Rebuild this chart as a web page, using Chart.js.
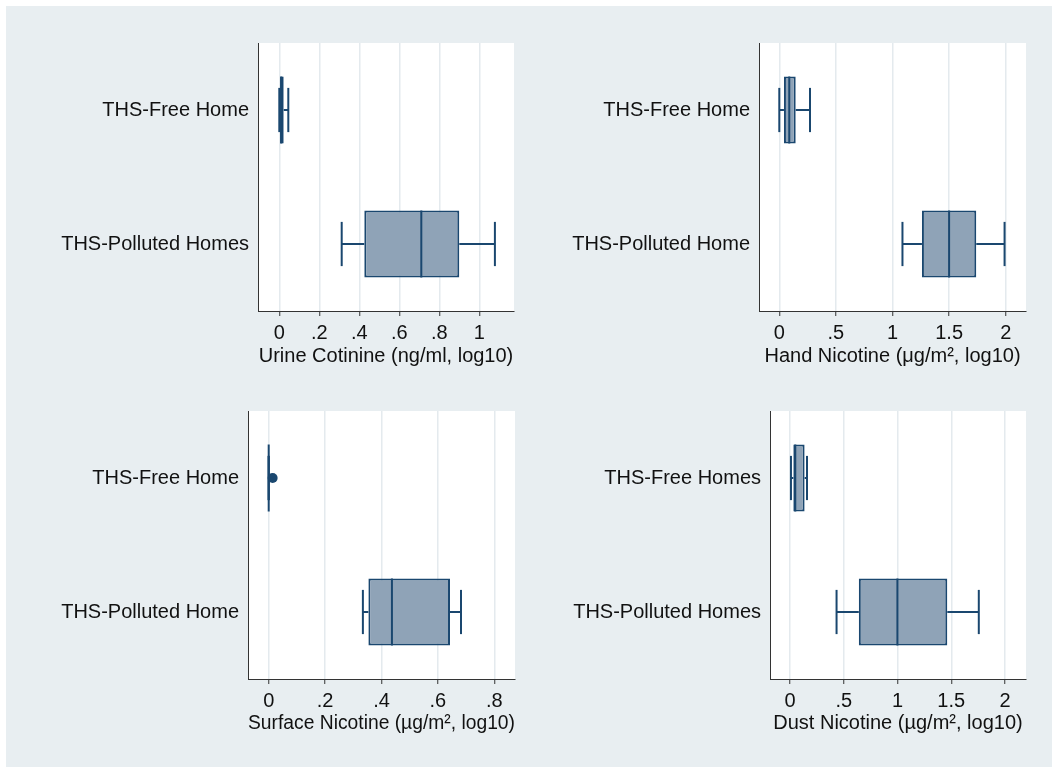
<!DOCTYPE html>
<html>
<head>
<meta charset="utf-8">
<script src="https://cdn.jsdelivr.net/npm/chart.js@4"></script>
<style>
  body { margin: 0; background: #fff; }
  #bg { position: absolute; left: 6px; top: 6px; width: 1046px; height: 761px; background: #e8eef1; }
  .panel { position: absolute; }
</style>
</head>
<body>
<div id="bg"></div>
<div class="panel" id="p1"><canvas id="c1"></canvas></div>
<div class="panel" id="p2"><canvas id="c2"></canvas></div>
<div class="panel" id="p3"><canvas id="c3"></canvas></div>
<div class="panel" id="p4"><canvas id="c4"></canvas></div>
<script>
// urine cotinine
const groups1 = ["THS-Free Home", "THS-Polluted Homes"];
const lo1 = [0, 0.312];
const q1_1 = [0, 0.425];
const med1 = [0.01, 0.71];
const q3_1 = [0.022, 0.90];
const hi1 = [0.045, 1.078];
const ticks1 = [0, 0.2, 0.4, 0.6, 0.8, 1];

// hand nicotine
const groups2 = ["THS-Free Home", "THS-Polluted Home"];
const lo2 = [0, 1.088];
const q1_2 = [0.041, 1.26];
const med2 = [0.088, 1.5];
const q3_2 = [0.145, 1.74];
const hi2 = [0.271, 1.99];
const ticks2 = [0, 0.5, 1, 1.5, 2];

// surface nicotine
const groups3 = ["THS-Free Home", "THS-Polluted Home"];
const lo3 = [0, 0.334];
const q1_3 = [0, 0.3535];
const med3 = [0, 0.437];
const q3_3 = [0, 0.643];
const hi3 = [0, 0.682];
const out3 = [[0.014], []];
const ticks3 = [0, 0.2, 0.4, 0.6, 0.8];

// dust nicotine
const groups4 = ["THS-Free Homes", "THS-Polluted Homes"];
const lo4 = [0.009, 0.433];
const q1_4 = [0.031, 0.64];
const med4 = [0.049, 0.999];
const q3_4 = [0.136, 1.463];
const hi4 = [0.158, 1.756];
const ticks4 = [0, 0.5, 1, 1.5, 2];

const LINE = "#1a476f";
const FILL = "#8fa3b7";

Chart.defaults.font.family = '"Liberation Sans", Arial, Helvetica, sans-serif';
Chart.defaults.font.size = 20;
Chart.defaults.color = "#111";

const boxParts = {
    id: "boxParts",
    beforeDraw(chart) {
        const a = chart.chartArea;
        const ctx = chart.ctx;
        ctx.save();
        ctx.fillStyle = "#fff";
        ctx.fillRect(a.left, a.top, a.right - a.left, a.bottom - a.top);
        ctx.restore();
    },
    afterDatasetsDraw(chart) {
        const ds = chart.data.datasets[0];
        const meta = chart.getDatasetMeta(0);
        const xs = chart.scales.x;
        const ys = chart.scales.y;
        const px = (v) => xs.getPixelForValue(v);
        const ctx = chart.ctx;
        const seg = (x1, y1, x2, y2) => {
            ctx.beginPath();
            ctx.moveTo(x1, y1);
            ctx.lineTo(x2, y2);
            ctx.stroke();
        };
        ctx.save();
        ctx.strokeStyle = LINE;
        ctx.lineWidth = 2;
        ds.med.forEach((m, i) => {
            const yc = ys.getPixelForValue(i);
            const h = meta.data[i].height / 2;
            const cap = h * 0.66;
            seg(px(m), yc - h, px(m), yc + h);
            seg(px(ds.lo[i]), yc, px(ds.data[i][0]), yc);
            seg(px(ds.data[i][1]), yc, px(ds.hi[i]), yc);
            seg(px(ds.lo[i]), yc - cap, px(ds.lo[i]), yc + cap);
            seg(px(ds.hi[i]), yc - cap, px(ds.hi[i]), yc + cap);
            (ds.out ? ds.out[i] : []).forEach((o) => {
                ctx.beginPath();
                ctx.fillStyle = LINE;
                ctx.arc(px(o), yc, 5, 0, Math.PI * 2);
                ctx.fill();
            });
        });
        ctx.restore();
    },
};

function fmt(v) {
    return v === 0 ? "0" : String(v).replace(/^0\./, ".");
}

function makePanel(id, box, groups, lo, q1, med, q3, hi, out, ticks, min, max, title) {
    const wrap = document.getElementById("p" + id);
    const padR = 12;
    wrap.style.left = box.cx + "px";
    wrap.style.top = box.top + "px";
    wrap.style.width = box.right + padR - box.cx + "px";
    wrap.style.height = box.canvasBottom - box.top + "px";

    new Chart(document.getElementById("c" + id), {
        type: "bar",
        data: {
            labels: groups,
            datasets: [
                {
                    data: q1.map((v, i) => [v, q3[i]]),
                    lo: lo,
                    med: med,
                    hi: hi,
                    out: out,
                    backgroundColor: FILL,
                    borderColor: LINE,
                    borderWidth: 2,
                    borderSkipped: false,
                    barPercentage: 1,
                    categoryPercentage: 0.5,
                },
            ],
        },
        options: {
            indexAxis: "y",
            responsive: true,
            maintainAspectRatio: false,
            animation: false,
            events: [],
            layout: { padding: { left: 0, top: 0, right: padR, bottom: 0 } },
            plugins: { legend: { display: false }, tooltip: { enabled: false } },
            scales: {
                x: {
                    type: "linear",
                    min: min,
                    max: max,
                    afterBuildTicks: (s) => {
                        s.ticks = ticks.map((v) => ({ value: v }));
                    },
                    afterFit: (s) => {
                        s.height = box.canvasBottom - box.bottom;
                        s.paddingLeft = 0;
                        s.paddingRight = 0;
                    },
                    grid: {
                        color: "#e4eaee",
                        lineWidth: 1.5,
                        tickColor: "#333",
                        tickLength: 5,
                        tickWidth: 1,
                    },
                    border: { display: true, color: "#333", width: 1 },
                    ticks: { padding: 5, maxRotation: 0, callback: (v) => fmt(v) },
                    title: { display: true, text: title, padding: { top: 0, bottom: 0 } },
                },
                y: {
                    afterFit: (s) => {
                        s.width = box.left - box.cx;
                        s.paddingTop = 0;
                        s.paddingBottom = 0;
                    },
                    grid: { display: false, drawTicks: false },
                    border: { display: true, color: "#333", width: 1 },
                    ticks: { padding: 9 },
                },
            },
        },
        plugins: [boxParts],
    });
}

makePanel(1, { cx: 10, top: 43, left: 258, right: 514, bottom: 311, canvasBottom: 368 },
    groups1, lo1, q1_1, med1, q3_1, hi1, null, ticks1, -0.1065, 1.1735, "Urine Cotinine (ng/ml, log10)");
makePanel(2, { cx: 530, top: 43, left: 759, right: 1026, bottom: 311, canvasBottom: 368 },
    groups2, lo2, q1_2, med2, q3_2, hi2, null, ticks2, -0.1793, 2.1793, "Hand Nicotine (\u03bcg/m\u00b2, log10)");
makePanel(3, { cx: 10, top: 411, left: 248, right: 515, bottom: 679, canvasBottom: 735 },
    groups3, lo3, q1_3, med3, q3_3, hi3, out3, ticks3, -0.0734, 0.8734, "Surface Nicotine (\u00b5g/m\u00b2, log10)");
makePanel(4, { cx: 530, top: 411, left: 770, right: 1026, bottom: 679, canvasBottom: 735 },
    groups4, lo4, q1_4, med4, q3_4, hi4, null, ticks4, -0.186, 2.195, "Dust Nicotine (\u00b5g/m\u00b2, log10)");
</script>
</body>
</html>
